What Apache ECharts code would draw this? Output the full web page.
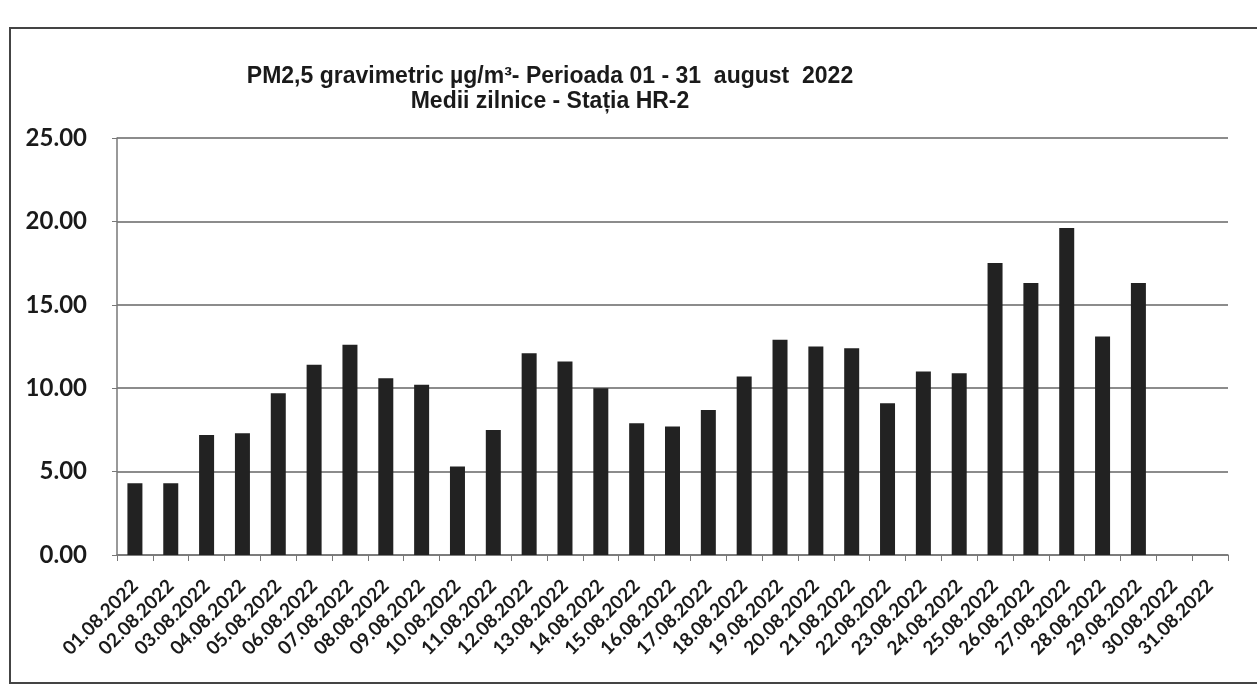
<!DOCTYPE html>
<html><head><meta charset="utf-8">
<script src="https://cdn.jsdelivr.net/npm/echarts@6/dist/echarts.min.js"></script>
<style>html,body{margin:0;padding:0;background:#fff}#c{width:1257px;height:692px}</style>
</head><body><div id="c"></div>
<script>
const categories = ["01.08.2022","02.08.2022","03.08.2022","04.08.2022","05.08.2022","06.08.2022","07.08.2022","08.08.2022","09.08.2022","10.08.2022","11.08.2022","12.08.2022","13.08.2022","14.08.2022","15.08.2022","16.08.2022","17.08.2022","18.08.2022","19.08.2022","20.08.2022","21.08.2022","22.08.2022","23.08.2022","24.08.2022","25.08.2022","26.08.2022","27.08.2022","28.08.2022","29.08.2022","30.08.2022","31.08.2022"];
const pm25 = [4.3,4.3,7.2,7.3,9.7,11.4,12.6,10.6,10.2,5.3,7.5,12.1,11.6,10.0,7.9,7.7,8.7,10.7,12.9,12.5,12.4,9.1,11.0,10.9,17.5,16.3,19.6,13.1,16.3,null,null];
const titleLines = ["PM2,5 gravimetric µg/m³- Perioada 01 - 31  august  2022","Medii zilnice - Stația HR-2"];

const chart = echarts.init(document.getElementById('c'), null, {renderer:'canvas'});
chart.setOption({
  backgroundColor:'#fff',
  animation:false,
  title:{
    text: titleLines.join('\n'),
    left: 545, top: 59, textAlign:'center',
    textStyle:{fontFamily:'"Liberation Sans",Arial,sans-serif',fontWeight:'bold',fontSize:23,color:'#1a1a1a',lineHeight:25}
  },
  graphic:[{type:'rect',shape:{x:10,y:28,width:1265,height:655},style:{fill:'none',stroke:'#444',lineWidth:2}}],
  grid:{left:117,right:29,top:138,bottom:137},
  xAxis:{
    type:'category', data:categories, boundaryGap:true,
    axisLine:{lineStyle:{color:'#777',width:1.5}},
    axisTick:{show:true,length:6,lineStyle:{color:'#777'}},
    axisLabel:{rotate:45,interval:0,margin:28,fontFamily:'Lato,"Open Sans",sans-serif',fontWeight:'bold',fontSize:19,color:'#1a1a1a'}
  },
  yAxis:{
    type:'value', min:0, max:25, interval:5,
    axisLine:{show:true,lineStyle:{color:'#777',width:1.5}},
    axisTick:{show:true,length:5,lineStyle:{color:'#777'}},
    splitLine:{lineStyle:{color:'#666',width:1.5}},
    axisLabel:{formatter:v=>v.toFixed(2),margin:30,fontFamily:'Lato,"Open Sans",sans-serif',fontWeight:'bold',fontSize:24,color:'#1a1a1a'}
  },
  series:[{type:'bar',data:pm25,barWidth:15,itemStyle:{color:'#222'}}]
});
</script></body></html>
